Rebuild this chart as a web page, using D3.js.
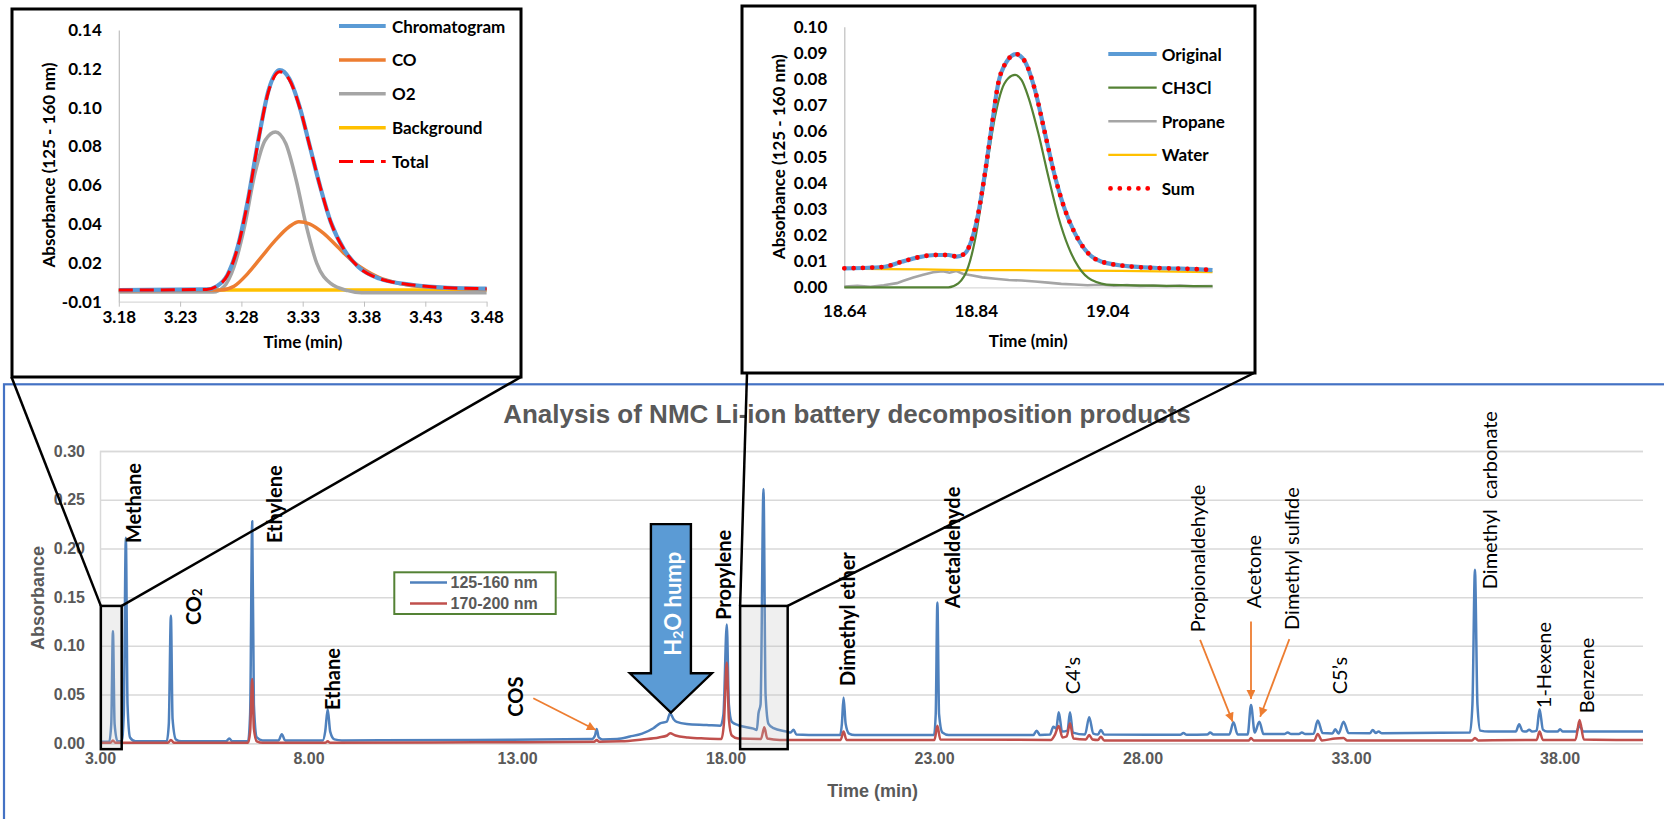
<!DOCTYPE html>
<html>
<head>
<meta charset="utf-8">
<script src="https://cdn.jsdelivr.net/npm/d3@7"></script>
<style>
  body { margin: 0; background: #fff; }
  svg { display: block; }
</style>
</head>
<body>
<script>
// ---- main chromatogram (time in min, absorbance) ----
const blue125 = [
  [3.00, 0.0015], [3.22, 0.0015], [3.27, 0.02], [3.31, 0.115], [3.35, 0.02], [3.42, 0.002],
  [3.52, 0.002], [3.57, 0.03], [3.62, 0.211], [3.66, 0.04], [3.72, 0.006], [3.85, 0.002],
  [4.60, 0.002], [4.65, 0.02], [4.70, 0.131], [4.74, 0.025], [4.82, 0.004], [4.95, 0.002],
  [6.02, 0.002], [6.10, 0.005], [6.17, 0.002],
  [6.55, 0.002], [6.60, 0.03], [6.65, 0.228], [6.69, 0.04], [6.76, 0.006], [6.90, 0.003],
  [7.28, 0.003], [7.36, 0.0092], [7.44, 0.003],
  [8.34, 0.003], [8.40, 0.012], [8.46, 0.035], [8.52, 0.012], [8.62, 0.004], [8.80, 0.003],
  [12.0, 0.0035], [14.80, 0.0045], [14.87, 0.008], [14.91, 0.0147], [14.96, 0.006], [15.05, 0.004],
  [15.40, 0.0045], [15.71, 0.007], [16.00, 0.010], [16.27, 0.0154], [16.43, 0.0205], [16.59, 0.0222],
  [16.67, 0.0308], [16.75, 0.025], [16.83, 0.022], [17.07, 0.0198], [17.55, 0.0188], [17.88, 0.018],
  [17.95, 0.03], [18.03, 0.122], [18.08, 0.04], [18.15, 0.022], [18.31, 0.0185], [18.67, 0.015],
  [18.75, 0.0137], [18.79, 0.0308], [18.84, 0.04], [18.91, 0.261], [18.96, 0.05], [19.03, 0.02],
  [19.15, 0.0155], [19.47, 0.012], [19.56, 0.011], [19.63, 0.014], [19.70, 0.009], [20.0, 0.0085],
  [20.75, 0.0085], [20.79, 0.02], [20.83, 0.047], [20.88, 0.02], [20.96, 0.01], [21.1, 0.0085],
  [23.0, 0.0085], [23.04, 0.03], [23.08, 0.1445], [23.12, 0.03], [23.2, 0.011], [23.35, 0.0085],
  [25.38, 0.0085], [25.46, 0.013], [25.54, 0.0085], [25.78, 0.009], [25.86, 0.017], [25.93, 0.015],
  [25.99, 0.0318], [26.07, 0.012], [26.20, 0.013], [26.26, 0.0318], [26.33, 0.011], [26.62, 0.009],
  [26.72, 0.0267], [26.82, 0.01], [26.93, 0.009], [27.0, 0.0137], [27.08, 0.009],
  [28.9, 0.0088], [28.98, 0.0105], [29.06, 0.0088], [29.55, 0.009], [29.62, 0.011], [29.7, 0.009],
  [30.08, 0.009], [30.18, 0.0215], [30.28, 0.009], [30.52, 0.009], [30.60, 0.0393], [30.69, 0.011],
  [30.80, 0.0222], [30.9, 0.0095],
  [31.40, 0.0095], [31.48, 0.011], [31.56, 0.0095], [31.75, 0.0095], [31.82, 0.011], [31.9, 0.0095],
  [32.1, 0.0097], [32.2, 0.0233], [32.32, 0.0105], [32.55, 0.010], [32.62, 0.0144], [32.7, 0.010],
  [32.82, 0.0222], [32.94, 0.0105], [33.45, 0.0103], [33.52, 0.0137], [33.59, 0.0105], [33.66, 0.012],
  [33.74, 0.0103],
  [35.85, 0.011], [35.91, 0.04], [35.97, 0.178], [36.03, 0.04], [36.1, 0.013], [36.3, 0.012],
  [36.95, 0.012], [37.03, 0.0195], [37.11, 0.0125], [37.20, 0.012], [37.27, 0.014], [37.34, 0.012],
  [37.45, 0.013], [37.52, 0.035], [37.60, 0.014], [37.7, 0.012], [37.95, 0.012], [38.01, 0.0144],
  [38.08, 0.012], [38.40, 0.012], [38.48, 0.018], [38.57, 0.012], [40.0, 0.012]
];
const red170 = [
  [3.00, 0.0005], [3.25, 0.0005], [3.31, 0.003], [3.37, 0.0005], [4.63, 0.0005], [4.70, 0.0034],
  [4.78, 0.0005], [6.55, 0.0005], [6.60, 0.012], [6.65, 0.066], [6.69, 0.015], [6.76, 0.002],
  [6.9, 0.0005], [8.40, 0.0005], [8.46, 0.002], [8.52, 0.0005], [12.0, 0.001], [14.85, 0.0015],
  [14.91, 0.0035], [14.97, 0.0015], [15.5, 0.002], [16.0, 0.004], [16.4, 0.006], [16.6, 0.008],
  [16.67, 0.0103], [16.8, 0.008], [17.1, 0.006], [17.5, 0.005], [17.9, 0.0045], [17.96, 0.02],
  [18.03, 0.083], [18.08, 0.025], [18.15, 0.008], [18.3, 0.005], [18.85, 0.0045], [18.93, 0.0164],
  [19.0, 0.005], [19.3, 0.0035], [20.76, 0.0035], [20.83, 0.012], [20.9, 0.0035], [23.01, 0.0035],
  [23.08, 0.018], [23.15, 0.004], [25.8, 0.0035], [25.9, 0.009], [25.99, 0.0178], [26.08, 0.006],
  [26.18, 0.007], [26.26, 0.0205], [26.34, 0.005], [26.64, 0.004], [26.72, 0.0085], [26.8, 0.004],
  [26.93, 0.0035], [27.0, 0.0068], [27.08, 0.003], [30.55, 0.003], [30.60, 0.0055], [30.66, 0.003],
  [32.12, 0.003], [32.2, 0.0096], [32.3, 0.003], [32.62, 0.005], [32.82, 0.0055], [32.9, 0.003],
  [35.9, 0.003], [35.97, 0.0055], [36.05, 0.003], [37.45, 0.0035], [37.52, 0.012], [37.6, 0.0035],
  [38.38, 0.0035], [38.48, 0.024], [38.58, 0.004], [40.0, 0.0034]
];
const mainXTicks = [3, 8, 13, 18, 23, 28, 33, 38];
const mainYTicks = [0, 0.05, 0.10, 0.15, 0.20, 0.25, 0.30];
const seriesNames = ['125-160 nm', '170-200 nm'];

// peak labels: name, time, absorbance where the text starts, bold?
const peakNames = ['Methane', 'CO2', 'Ethylene', 'Ethane', 'COS', 'Propylene', 'Dimethyl ether',
  'Acetaldehyde', 'C4\u2019s', 'Propionaldehyde', 'Acetone', 'Dimethyl sulfide', 'C5\u2019s',
  'Dimethyl\u00a0 carbonate', '1-Hexene', 'Benzene'];
const peakTimes = [3.80, 5.22, 7.17, 8.56, 12.95, 17.95, 20.91, 23.42, 26.30, 29.30, 30.66, 31.55,
  32.70, 36.31, 37.60, 38.64];
const peakLevels = [0.2055, 0.1213, 0.2055, 0.0342, 0.0273, 0.1267, 0.0589, 0.1387, 0.0503, 0.114,
  0.1387, 0.1164, 0.0503, 0.1582, 0.036, 0.0308];
const peakBold = [1, 1, 1, 1, 1, 1, 1, 1, 0, 0, 0, 0, 0, 0, 0, 0];

// orange pointer arrows [fromT, fromA, toT, toA]
const pointers = [
  [13.39, 0.0462, 14.89, 0.0137],
  [29.38, 0.1061, 30.16, 0.0222],
  [30.60, 0.1249, 30.60, 0.0455],
  [31.52, 0.1069, 30.82, 0.0273]
];
// water hump arrow: tip and top of the shaft
const humpTip = [16.69, 0.0314];
const humpTop = 0.225;
// zoomed windows on the main chart
const zoomWindows = [[3.02, 3.52], [18.35, 19.49]];
const zoomLevels = [0.141, -0.006];

// ---- inset 1: 3.18 - 3.48 min ----
const chromatogram = [
  [3.18, 0.006], [3.2516, 0.0063], [3.26, 0.008], [3.2685, 0.0137], [3.277, 0.0283], [3.2853, 0.0523],
  [3.2938, 0.0832], [3.3022, 0.109], [3.3112, 0.1193], [3.319, 0.115], [3.3275, 0.1004], [3.3359, 0.0798],
  [3.3443, 0.0592], [3.3528, 0.0412], [3.364, 0.0266], [3.3752, 0.018], [3.392, 0.012], [3.42, 0.0086],
  [3.448, 0.0072], [3.48, 0.0067]
];
const coFit = [
  [3.18, 0.0057], [3.2629, 0.006], [3.274, 0.008], [3.2853, 0.0146], [3.2966, 0.0232], [3.3078, 0.0317],
  [3.319, 0.0386], [3.3269, 0.0412], [3.3359, 0.04], [3.3471, 0.0352], [3.3584, 0.0283], [3.3696, 0.0215],
  [3.3808, 0.0163], [3.392, 0.0125], [3.4089, 0.0094], [3.4342, 0.0074], [3.48, 0.0063]
];
const o2Fit = [
  [3.18, 0.005], [3.257, 0.005], [3.2657, 0.0077], [3.274, 0.018], [3.2825, 0.0386], [3.291, 0.066],
  [3.2994, 0.0832], [3.3078, 0.0875], [3.3162, 0.0815], [3.3247, 0.0626], [3.3331, 0.0386], [3.3415, 0.0197],
  [3.3528, 0.0094], [3.3668, 0.0057], [3.378, 0.0046], [3.48, 0.0046]
];
const background = [[3.18, 0.006], [3.48, 0.006]];
const totalFit = [
  [3.18, 0.006], [3.2516, 0.0063], [3.26, 0.008], [3.2685, 0.0135], [3.277, 0.028], [3.2853, 0.052],
  [3.2938, 0.083], [3.3022, 0.1085], [3.3112, 0.1185], [3.319, 0.1145], [3.3275, 0.1002], [3.3359, 0.0798],
  [3.3443, 0.0592], [3.3528, 0.0412], [3.364, 0.0266], [3.3752, 0.018], [3.392, 0.012], [3.42, 0.0086],
  [3.448, 0.0072], [3.48, 0.0067]
];
const inset1XTicks = [3.18, 3.23, 3.28, 3.33, 3.38, 3.43, 3.48];
const inset1YTicks = [0, 0.02, 0.04, 0.06, 0.08, 0.10, 0.12, 0.14];
const inset1YLabels = ['-0.01', '0.02', '0.04', '0.06', '0.08', '0.10', '0.12', '0.14'];
const inset1Names = ['Chromatogram', 'CO', 'O2', 'Background', 'Total'];

// ---- inset 2: 18.64 - 19.2 min ----
const original = [
  [18.64, 0.0073], [18.6765, 0.0075], [18.7019, 0.0079], [18.7272, 0.0098], [18.7525, 0.0115],
  [18.7779, 0.0124], [18.7982, 0.0124], [18.8108, 0.0118], [18.8235, 0.013], [18.8337, 0.0182],
  [18.8438, 0.0284], [18.8539, 0.0437], [18.8641, 0.0616], [18.8742, 0.0783], [18.8869, 0.0866],
  [18.9011, 0.0895], [18.9148, 0.0866], [18.93, 0.0757], [18.9452, 0.0591], [18.9604, 0.0425],
  [18.9756, 0.0297], [18.9908, 0.0207], [19.0111, 0.013], [19.0314, 0.0098], [19.0795, 0.0079],
  [19.130, 0.0073], [19.181, 0.0069], [19.2, 0.0066]
];
const ch3cl = [
  [18.64, 0.0], [18.7982, 0.0], [18.8134, 0.0015], [18.8286, 0.0079], [18.8387, 0.018], [18.8489, 0.0335],
  [18.859, 0.0501], [18.8692, 0.0655], [18.8793, 0.0757], [18.8894, 0.0802], [18.8996, 0.0815],
  [18.9097, 0.0795], [18.9198, 0.0731], [18.9351, 0.0591], [18.9503, 0.0425], [18.9655, 0.0271],
  [18.9807, 0.0156], [18.9959, 0.0079], [19.0162, 0.0028], [19.0466, 0.0009], [19.2, 0.0004]
];
const propane = [
  [18.64, 0.0003], [18.66, 0.0006], [18.68, 0.0002], [18.70, 0.0008], [18.72, 0.0016], [18.73, 0.0025],
  [18.745, 0.0038], [18.76, 0.0048], [18.775, 0.0058], [18.79, 0.0062], [18.80, 0.0056], [18.81, 0.0063],
  [18.82, 0.0052], [18.835, 0.0045], [18.85, 0.0038], [18.87, 0.0033], [18.89, 0.0028], [18.91, 0.0026],
  [18.93, 0.0022], [18.95, 0.0018], [18.97, 0.0013], [18.99, 0.0011], [19.01, 0.0008], [19.03, 0.0010],
  [19.05, 0.0006], [19.07, 0.0009], [19.09, 0.0005], [19.11, 0.0007], [19.13, 0.0004], [19.15, 0.0007],
  [19.17, 0.0004], [19.2, 0.0005]
];
const water = [
  [18.64, 0.0072], [18.70, 0.0070], [18.76, 0.0069], [18.82, 0.0066], [18.88, 0.0066], [18.94, 0.0065],
  [19.00, 0.0064], [19.06, 0.0063], [19.12, 0.0061], [19.2, 0.0058]
];
const sumFit = original;
const inset2XTicks = [18.64, 18.84, 19.04];
const inset2YTicks = [0, 0.01, 0.02, 0.03, 0.04, 0.05, 0.06, 0.07, 0.08, 0.09, 0.10];
const inset2Names = ['Original', 'CH3Cl', 'Propane', 'Water', 'Sum'];

// ------------------------------------------------------------------
const W = 1664;
const H = 819;
const ARIAL = 'Liberation Sans, Arial, sans-serif';
const CAL = 'Lato, Carlito, Calibri, sans-serif';
const GREY = '#595959';

const svg = d3.select('body').append('svg')
  .attr('width', W)
  .attr('height', H)
  .style('background', '#fff');

const defs = svg.append('defs');
defs.append('marker')
  .attr('id', 'orangeHead')
  .attr('markerUnits', 'userSpaceOnUse')
  .attr('viewBox', '0 0 10 10')
  .attr('refX', 10)
  .attr('refY', 5)
  .attr('markerWidth', 10)
  .attr('markerHeight', 9)
  .attr('orient', 'auto')
  .append('path')
  .attr('d', 'M0,0 L10,5 L0,10 z')
  .attr('fill', '#ed7d31');

// main chart frame
svg.append('rect')
  .attr('x', 4).attr('y', 384.3)
  .attr('width', W + 20).attr('height', 500)
  .attr('fill', 'none')
  .attr('stroke', '#4472c4')
  .attr('stroke-width', 2.2);

const x = d3.scaleLinear().domain([3, 40]).range([100, 1643]);
const y = d3.scaleLinear().domain([0, 0.30]).range([743.3, 451]);

const main = svg.append('g');

const gy = main.append('g')
  .attr('transform', `translate(${x(3)},0)`)
  .call(d3.axisLeft(y).tickValues(mainYTicks).tickFormat(d3.format('.2f'))
    .tickSize(-(x(40) - x(3))).tickPadding(15));
gy.select('.domain').attr('stroke', '#d9d9d9').attr('stroke-width', 1.5);
gy.selectAll('.tick line').attr('stroke', '#d9d9d9').attr('stroke-width', 1.5);
gy.selectAll('.tick text')
  .attr('font-family', ARIAL).attr('font-size', 16).attr('font-weight', 'bold').attr('fill', GREY);

const gx = main.append('g')
  .attr('transform', `translate(0,${y(0)})`)
  .call(d3.axisBottom(x).tickValues(mainXTicks).tickFormat(d3.format('.2f')).tickSize(0).tickPadding(9));
gx.select('.domain').remove();
gx.selectAll('.tick text')
  .attr('font-family', ARIAL).attr('font-size', 16).attr('font-weight', 'bold').attr('fill', GREY);

main.append('text')
  .attr('x', 847).attr('y', 414)
  .attr('text-anchor', 'middle').attr('dominant-baseline', 'central')
  .attr('font-family', ARIAL).attr('font-size', 26).attr('font-weight', 'bold').attr('fill', GREY)
  .text('Analysis of NMC Li-ion battery decomposition products');

main.append('text')
  .attr('transform', 'translate(38.3,598) rotate(-90)')
  .attr('text-anchor', 'middle').attr('dominant-baseline', 'central')
  .attr('font-family', ARIAL).attr('font-size', 18).attr('font-weight', 'bold').attr('fill', GREY)
  .text('Absorbance');

main.append('text')
  .attr('x', 872.7).attr('y', 790.7)
  .attr('text-anchor', 'middle').attr('dominant-baseline', 'central')
  .attr('font-family', ARIAL).attr('font-size', 18).attr('font-weight', 'bold').attr('fill', GREY)
  .text('Time (min)');

const mainLine = d3.line()
  .x((d) => x(d[0]))
  .y((d) => y(d[1]))
  .curve(d3.curveMonotoneX);

// blue first, red drawn over it (the red spikes show inside the blue ones)
main.append('path').datum(blue125)
  .attr('d', mainLine).attr('fill', 'none')
  .attr('stroke', '#4f81bd').attr('stroke-width', 2.5).attr('stroke-linejoin', 'round');
main.append('path').datum(red170)
  .attr('d', mainLine).attr('fill', 'none')
  .attr('stroke', '#c0504d').attr('stroke-width', 2.5).attr('stroke-linejoin', 'round');

// legend of the main chart
const leg = main.append('g');
leg.append('rect')
  .attr('x', 394.3).attr('y', 572.3).attr('width', 161.4).attr('height', 41.7)
  .attr('fill', '#fff').attr('stroke', '#548235').attr('stroke-width', 2);
const legColors = ['#4f81bd', '#c0504d'];
seriesNames.forEach((name, i) => {
  const ly = 582.5 + 21 * i;
  leg.append('line')
    .attr('x1', 410).attr('x2', 447).attr('y1', ly).attr('y2', ly)
    .attr('stroke', legColors[i]).attr('stroke-width', 2.5);
  leg.append('text')
    .attr('x', 450.5).attr('y', ly)
    .attr('dominant-baseline', 'central')
    .attr('font-family', ARIAL).attr('font-size', 16).attr('font-weight', 'bold').attr('fill', GREY)
    .text(name);
});

// peak labels, rotated
peakNames.forEach((name, i) => {
  const px = x(peakTimes[i]);
  const py = y(peakLevels[i]);
  const t = main.append('text')
    .attr('transform', `translate(${px},${py}) rotate(-90)`)
    .attr('dominant-baseline', 'central')
    .attr('font-family', CAL).attr('font-size', 20)
    .attr('font-weight', peakBold[i] ? 700 : 400)
    .attr('fill', '#000');
  if (name === 'CO2') {
    t.append('tspan').text('CO');
    t.append('tspan').attr('font-size', 13).attr('dy', 4).text('2');
  } else {
    t.text(name);
  }
});

pointers.forEach((p) => {
  main.append('line')
    .attr('x1', x(p[0])).attr('y1', y(p[1]))
    .attr('x2', x(p[2])).attr('y2', y(p[3]))
    .attr('stroke', '#ed7d31').attr('stroke-width', 1.8)
    .attr('marker-end', 'url(#orangeHead)');
});

// H2O hump block arrow
const tipX = x(humpTip[0]);
const tipY = y(humpTip[1]);
const shaftTopY = y(humpTop);
const shaftHalf = 20;
const headHalf = 41;
const headH = 39.4;
main.append('path')
  .attr('d', `M${tipX - shaftHalf},${shaftTopY} L${tipX + shaftHalf},${shaftTopY} L${tipX + shaftHalf},${tipY - headH}
    L${tipX + headHalf},${tipY - headH} L${tipX},${tipY} L${tipX - headHalf},${tipY - headH}
    L${tipX - shaftHalf},${tipY - headH} Z`)
  .attr('fill', '#5b9bd5').attr('stroke', '#000').attr('stroke-width', 2.4)
  .attr('stroke-linejoin', 'miter');
const hump = main.append('text')
  .attr('transform', `translate(${tipX + 1},${tipY - 57}) rotate(-90)`)
  .attr('dominant-baseline', 'central')
  .attr('font-family', CAL).attr('font-size', 22).attr('font-weight', 700).attr('fill', '#fff');
hump.append('tspan').text('H');
hump.append('tspan').attr('font-size', 14).attr('dy', 5).text('2');
hump.append('tspan').attr('dy', -5).text('O hump');

// zoom windows
zoomWindows.forEach((w) => {
  main.append('rect')
    .attr('x', x(w[0])).attr('y', y(zoomLevels[0]))
    .attr('width', x(w[1]) - x(w[0])).attr('height', y(zoomLevels[1]) - y(zoomLevels[0]))
    .attr('fill', '#bfbfbf').attr('fill-opacity', 0.25)
    .attr('stroke', '#000').attr('stroke-width', 2.5);
});

// ---------------- insets ----------------
function drawInset(frame, xs, ys, xTicks, xFmt, yTicks, yFmt, pos) {
  const g = svg.append('g');
  g.append('rect')
    .attr('x', frame[0]).attr('y', frame[1])
    .attr('width', frame[2] - frame[0]).attr('height', frame[3] - frame[1])
    .attr('fill', '#fff').attr('stroke', '#000').attr('stroke-width', 3);

  const ay = g.append('g')
    .attr('transform', `translate(${xs.range()[0]},0)`)
    .call(d3.axisLeft(ys).tickValues(yTicks).tickFormat(yFmt).tickSize(0).tickPadding(17));
  ay.select('.domain').attr('stroke', '#bfbfbf').attr('stroke-width', 1.2);
  ay.selectAll('.tick text')
    .attr('font-family', CAL).attr('font-size', 17).attr('font-weight', 700).attr('fill', '#000');

  const ax = g.append('g')
    .attr('transform', `translate(0,${ys.range()[0]})`)
    .call(d3.axisBottom(xs).tickValues(xTicks).tickFormat(xFmt)
      .tickSizeInner(pos.tick).tickSizeOuter(0).tickPadding(pos.pad));
  ax.select('.domain').attr('stroke', '#d9d9d9').attr('stroke-width', 1.2);
  ax.selectAll('.tick line').attr('stroke', '#bfbfbf');
  ax.selectAll('.tick text')
    .attr('font-family', CAL).attr('font-size', 17).attr('font-weight', 700).attr('fill', '#000');

  g.append('text')
    .attr('transform', `translate(${pos.yx},${pos.yy}) rotate(-90)`)
    .attr('text-anchor', 'middle').attr('dominant-baseline', 'central')
    .attr('font-family', CAL).attr('font-size', 17).attr('font-weight', 700)
    .text('Absorbance (125 - 160 nm)');
  g.append('text')
    .attr('x', pos.xx).attr('y', pos.xy)
    .attr('text-anchor', 'middle').attr('dominant-baseline', 'central')
    .attr('font-family', CAL).attr('font-size', 17).attr('font-weight', 700)
    .text('Time (min)');
  return g;
}

const x1 = d3.scaleLinear().domain([3.18, 3.48]).range([118.8, 486.6]);
const y1 = d3.scaleLinear().domain([0, 0.14]).range([301.7, 30]);
const g1 = drawInset([12, 9, 521, 377], x1, y1, inset1XTicks, d3.format('.2f'),
  inset1YTicks, (d, i) => inset1YLabels[i],
  { tick: 5, pad: 4, yx: 48.2, yy: 165, xx: 303, xy: 341.7 });

const line1 = d3.line().x((d) => x1(d[0])).y((d) => y1(d[1])).curve(d3.curveMonotoneX);
const inset1Series = [
  { data: background, color: '#ffc000', width: 3.5, dash: null },
  { data: o2Fit, color: '#a5a5a5', width: 3.5, dash: null },
  { data: coFit, color: '#ed7d31', width: 3.5, dash: null },
  { data: chromatogram, color: '#5b9bd5', width: 4.2, dash: null },
  { data: totalFit, color: '#ff0000', width: 3, dash: '14,7' },
];
inset1Series.forEach((s) => {
  g1.append('path').datum(s.data)
    .attr('d', line1).attr('fill', 'none')
    .attr('stroke', s.color).attr('stroke-width', s.width)
    .attr('stroke-dasharray', s.dash);
});
const leg1Style = [inset1Series[3], inset1Series[2], inset1Series[1], inset1Series[0], inset1Series[4]];
inset1Names.forEach((name, i) => {
  const ly = 26 + 33.9 * i;
  const s = leg1Style[i];
  g1.append('line')
    .attr('x1', 339).attr('x2', 385.7).attr('y1', ly).attr('y2', ly)
    .attr('stroke', s.color).attr('stroke-width', s.width).attr('stroke-dasharray', s.dash);
  g1.append('text')
    .attr('x', 391.9).attr('y', ly)
    .attr('dominant-baseline', 'central')
    .attr('font-family', CAL).attr('font-size', 17).attr('font-weight', 700)
    .text(name);
});

const x2 = d3.scaleLinear().domain([18.64, 19.2]).range([844.3, 1212.5]);
const y2 = d3.scaleLinear().domain([0, 0.10]).range([287.3, 26.7]);
const g2 = drawInset([742, 6, 1255, 373], x2, y2, inset2XTicks, d3.format('.2f'),
  inset2YTicks, d3.format('.2f'),
  { tick: 0, pad: 18, yx: 778.3, yy: 156.7, xx: 1028.3, xy: 340 });

const line2 = d3.line().x((d) => x2(d[0])).y((d) => y2(d[1])).curve(d3.curveMonotoneX);
const line2raw = d3.line().x((d) => x2(d[0])).y((d) => y2(d[1]));
const inset2Series = [
  { data: propane, color: '#a5a5a5', width: 2.6, dash: null, cap: 'butt', raw: true },
  { data: water, color: '#ffc000', width: 2.2, dash: null, cap: 'butt', raw: true },
  { data: ch3cl, color: '#548235', width: 2.2, dash: null, cap: 'butt', raw: false },
  { data: original, color: '#5b9bd5', width: 4.2, dash: null, cap: 'butt', raw: false },
  { data: sumFit, color: '#ff0000', width: 4.8, dash: '0,9.3', cap: 'round', raw: false },
];
inset2Series.forEach((s) => {
  g2.append('path').datum(s.data)
    .attr('d', s.raw ? line2raw : line2).attr('fill', 'none')
    .attr('stroke', s.color).attr('stroke-width', s.width)
    .attr('stroke-dasharray', s.dash).attr('stroke-linecap', s.cap);
});
const leg2Style = [inset2Series[3], inset2Series[2], inset2Series[0], inset2Series[1], inset2Series[4]];
inset2Names.forEach((name, i) => {
  const ly = 54 + 33.6 * i;
  const s = leg2Style[i];
  g2.append('line')
    .attr('x1', s.cap === 'round' ? 1110.5 : 1108.3).attr('x2', 1156.7).attr('y1', ly).attr('y2', ly)
    .attr('stroke', s.color).attr('stroke-width', s.width)
    .attr('stroke-dasharray', s.dash).attr('stroke-linecap', s.cap);
  g2.append('text')
    .attr('x', 1161.7).attr('y', ly)
    .attr('dominant-baseline', 'central')
    .attr('font-family', CAL).attr('font-size', 17).attr('font-weight', 700)
    .text(name);
});

// lines joining the zoom windows to the insets
const joins = [
  [x(zoomWindows[0][0]), y(zoomLevels[0]), 11.5, 377],
  [x(zoomWindows[0][1]), y(zoomLevels[0]), 521, 377],
  [x(zoomWindows[1][0]), y(zoomLevels[0]), 747, 373],
  [x(zoomWindows[1][1]), y(zoomLevels[0]), 1254, 373],
];
joins.forEach((j) => {
  svg.append('line')
    .attr('x1', j[0]).attr('y1', j[1]).attr('x2', j[2]).attr('y2', j[3])
    .attr('stroke', '#000').attr('stroke-width', 2.5);
});
</script>
</body>
</html>
